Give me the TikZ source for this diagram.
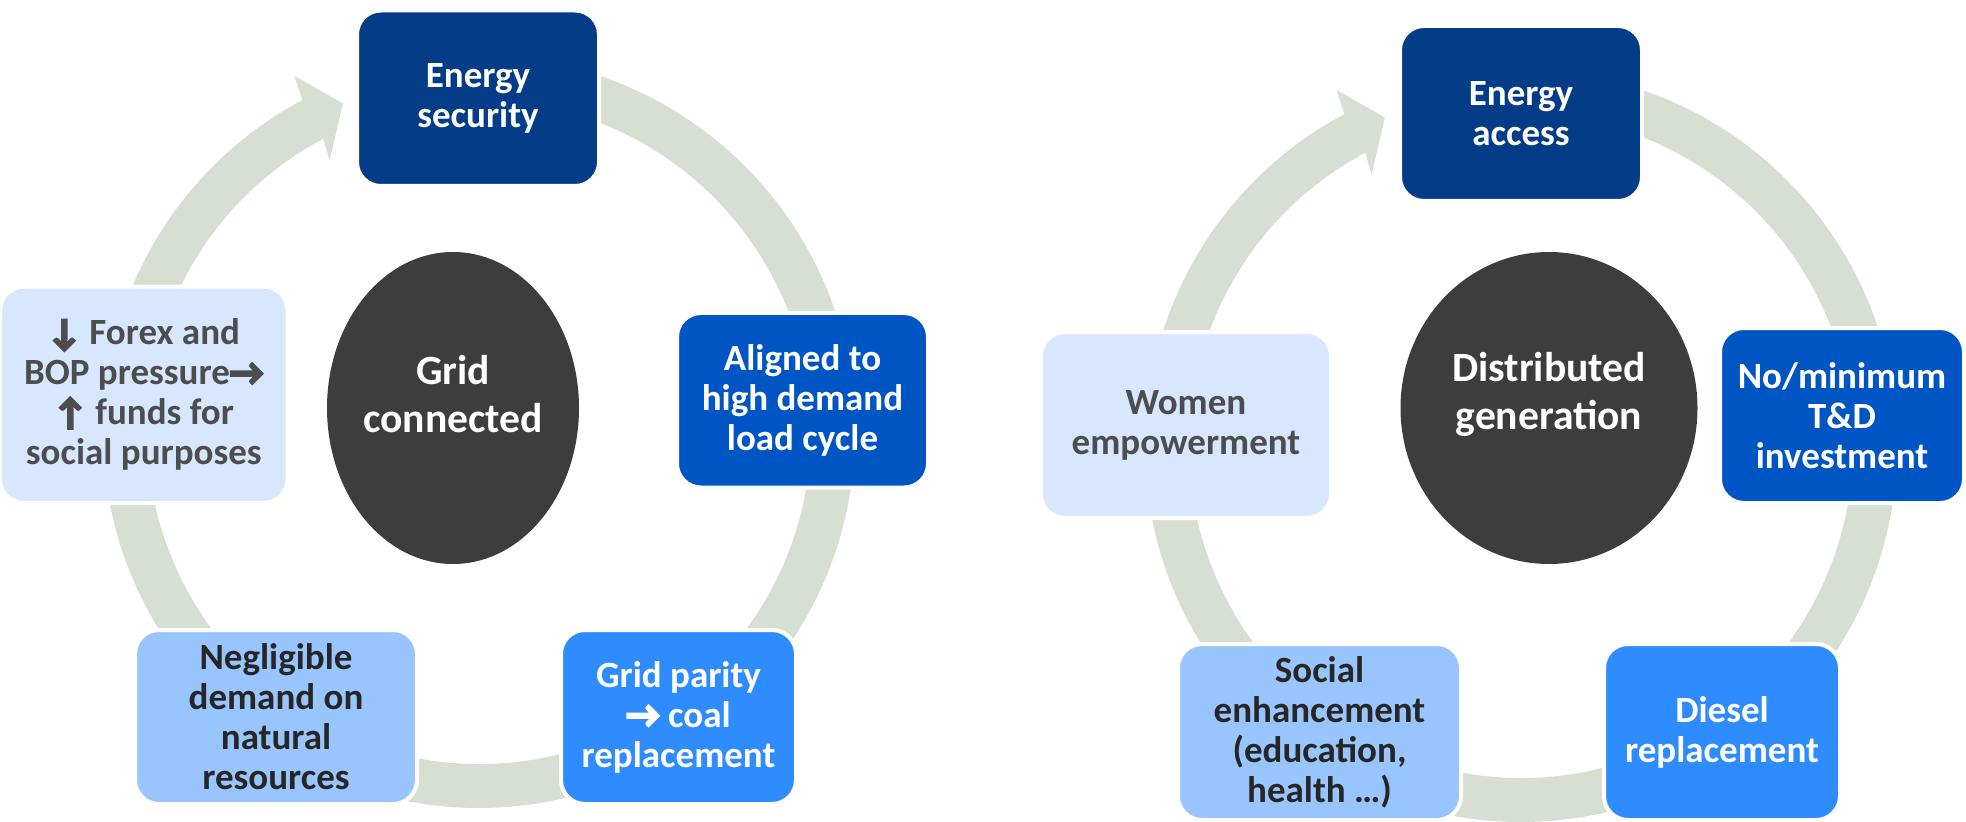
\documentclass[tikz,border=0pt]{standalone}
\usepackage{fontspec}
\setmainfont{Carlito}
\newfontfamily\heavyarrow{Carlito Bold}[FakeBold=6]
\usepackage{tikz}
\usetikzlibrary{shapes.geometric}

\definecolor{navy}{RGB}{4,60,135}
\definecolor{royal}{RGB}{0,85,196}
\definecolor{azure}{RGB}{47,140,255}
\definecolor{sky}{RGB}{153,197,255}
\definecolor{pale}{RGB}{214,231,255}
\definecolor{hubgrey}{RGB}{61,61,61}
\definecolor{ringgreen}{RGB}{215,223,210}
\definecolor{inkdark}{RGB}{38,38,38}
\definecolor{inkgrey}{RGB}{77,77,77}

\newcommand{\arr}[1]{{\heavyarrow #1}}

\tikzset{box/.style={rectangle, rounded corners=12pt, draw=white, line width=2pt, inner sep=2pt,
    align=center, font=\fontsize{18.5}{20}\selectfont\bfseries},
  hub/.style={ellipse, fill=hubgrey, inner sep=0pt},
  hubtext/.style={align=center, text=white, font=\fontsize{20.8}{24}\selectfont\bfseries},
  ring/.style={fill=ringgreen}}

\begin{document}
\begin{tikzpicture}[x=0.5pt, y=0.5pt]
    \useasboundingbox (0,0) rectangle (1966,821);
    \foreach \cx/\cy in {479/389, 1521/375}
      \fill[ring, shift={(\cx,\cy)}] (90:376) arc[start angle=90, end angle=-242, radius=376]
        -- (117.4:401) -- (112.5:355.6) -- (118.8:310) -- (118:332)
        arc[start angle=118, end angle=450, radius=332] -- cycle;

    \node [hub, minimum width=126pt, minimum height=156pt] (grid) at (453,413) {};
    \node [hubtext] at ([yshift=7pt]grid.center) {Grid\\connected};
    \node [box, fill=navy, text=white, minimum width=121pt, minimum height=87.75pt] (security) at (478,722.75) {Energy\\security};
    \node [box, fill=royal, text=white, minimum width=125.5pt, minimum height=87.25pt] (aligned) at (802.5,420.75) {Aligned to\\high demand\\load cycle};
    \node [box, fill=azure, text=white, minimum width=117.5pt, minimum height=87pt] (parity) at (678.5,104) {Grid parity\\\arr{→} coal\\replacement};
    \node [box, fill=sky, text=inkdark, minimum width=141pt, minimum height=87pt] (negligible) at (276,104) {Negligible\\demand on\\natural\\resources};
    \node [box, fill=pale, text=inkgrey, minimum width=143.8pt, minimum height=108.2pt] (forex) at (143.8,426.2) {\arr{↓} Forex and\\BOP pressure\arr{→}\\\arr{↑} funds for\\social purposes};

    \node [hub, minimum width=148.5pt, minimum height=156pt] (distributed) at (1549,413) {};
    \node [hubtext] at ([yshift=7pt]distributed.center) {Distributed\\generation};
    \node [box, fill=navy, text=white, minimum width=121pt, minimum height=87.5pt] (access) at (1521,707.5) {Energy\\access};
    \node [box, fill=royal, text=white, minimum width=122pt, minimum height=87.5pt] (tnd) at (1842,405.5) {No/minimum\\T\&D\\investment};
    \node [box, fill=azure, text=white, minimum width=118pt, minimum height=88pt] (diesel) at (1722,89) {Diesel\\replacement};
    \node [box, fill=sky, text=inkdark, minimum width=141.5pt, minimum height=88pt] (social) at (1319.5,89) {Social\\enhancement\\(education,\\health …)};
    \node [box, fill=pale, text=inkgrey, minimum width=145pt, minimum height=93pt] (women) at (1186,396) {Women\\empowerment};
\end{tikzpicture}
\end{document}
